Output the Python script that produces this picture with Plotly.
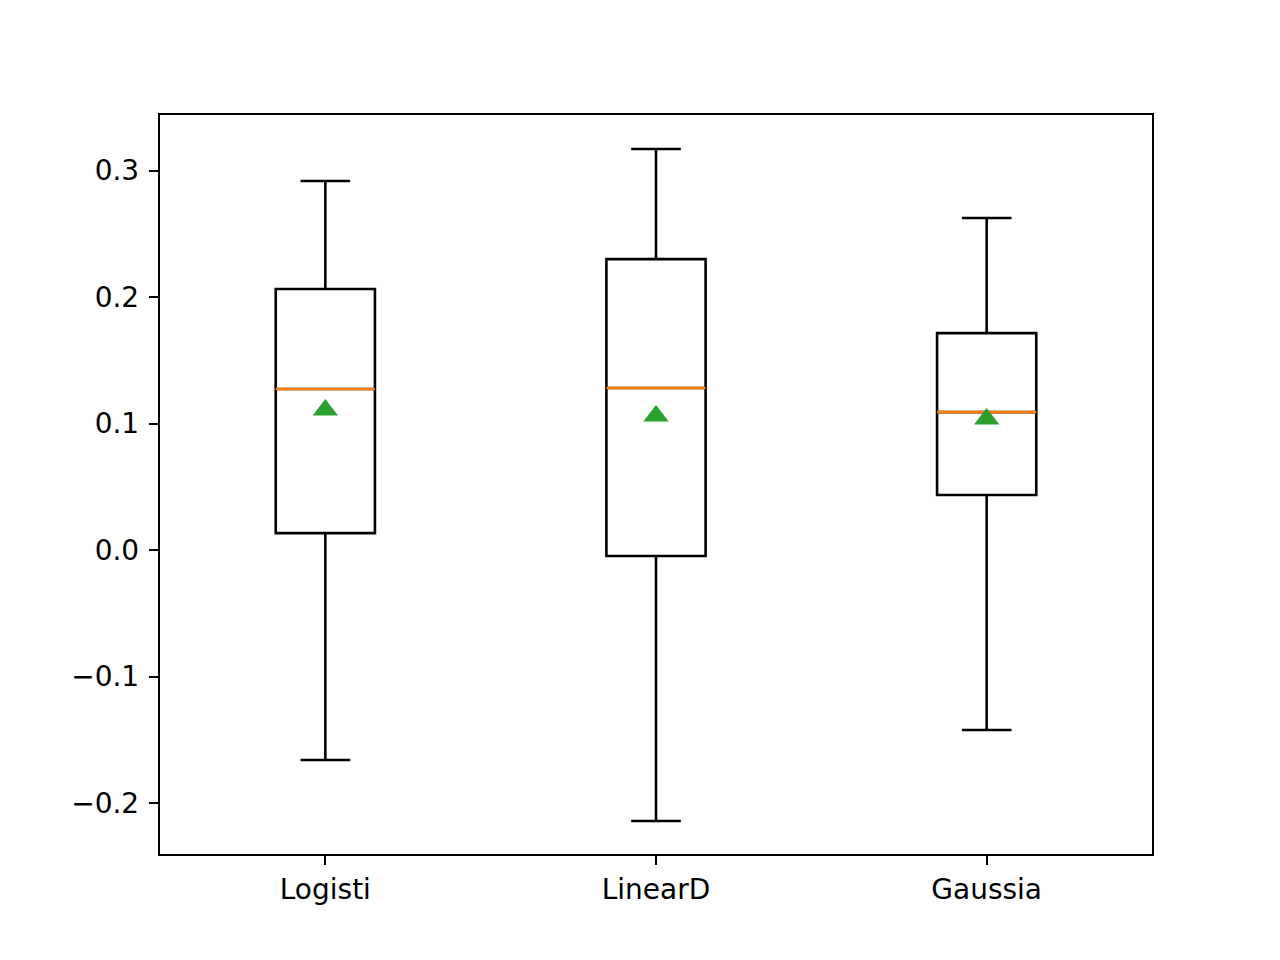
import plotly.graph_objects as go

# Data
categories = ["Logisti", "LinearD", "Gaussia"]
positions = [1, 2, 3]
q1 = [0.0134, -0.0047, 0.0435]
median = [0.1273, 0.1281, 0.1090]
q3 = [0.2063, 0.2300, 0.1715]
lower = [-0.1660, -0.2142, -0.1423]
upper = [0.2917, 0.3170, 0.2625]
mean = [0.1107, 0.1060, 0.1036]

ytick_vals = [-0.2, -0.1, 0.0, 0.1, 0.2, 0.3]
ytick_text = ["\u22120.2", "\u22120.1", "0.0", "0.1", "0.2", "0.3"]

box_width = 0.3

fig = go.Figure()
fig.add_trace(go.Box(
    x=positions, q1=q1, median=median, q3=q3,
    lowerfence=lower, upperfence=upper,
    width=box_width, whiskerwidth=0.5,
    fillcolor="rgba(0,0,0,0)",
    line=dict(color="black", width=2.6),
    boxpoints=False, showlegend=False, hoverinfo="skip",
))

# median lines (orange)
mx, my = [], []
for p, m in zip(positions, median):
    mx += [p - box_width / 2, p + box_width / 2, None]
    my += [m, m, None]
fig.add_trace(go.Scatter(
    x=mx, y=my, mode="lines",
    line=dict(color="#ff7f0e", width=2.6),
    showlegend=False, hoverinfo="skip",
))

# mean markers (green triangles)
fig.add_trace(go.Scatter(
    x=positions, y=mean, mode="markers",
    marker=dict(symbol="triangle-up", size=22, color="#2ca02c"),
    showlegend=False, hoverinfo="skip",
))

axis_common = dict(
    showline=True, mirror=True, linecolor="black", linewidth=2.4,
    ticks="outside", ticklen=9, tickwidth=2.4, tickcolor="black",
    showgrid=False, zeroline=False,
    tickfont=dict(family="DejaVu Sans", size=28, color="black"),
)

fig.update_layout(
    width=1280, height=960,
    margin=dict(l=152, r=136, t=107, b=114),
    plot_bgcolor="white", paper_bgcolor="white",
    xaxis=dict(range=[0.5, 3.5], tickvals=positions, ticktext=categories,
               ticklabelstandoff=0, **axis_common),
    yaxis=dict(range=[-0.2403, 0.3439], tickvals=ytick_vals, ticktext=ytick_text,
               ticklabelstandoff=4, **axis_common),
)

fig.write_html("out.html")
